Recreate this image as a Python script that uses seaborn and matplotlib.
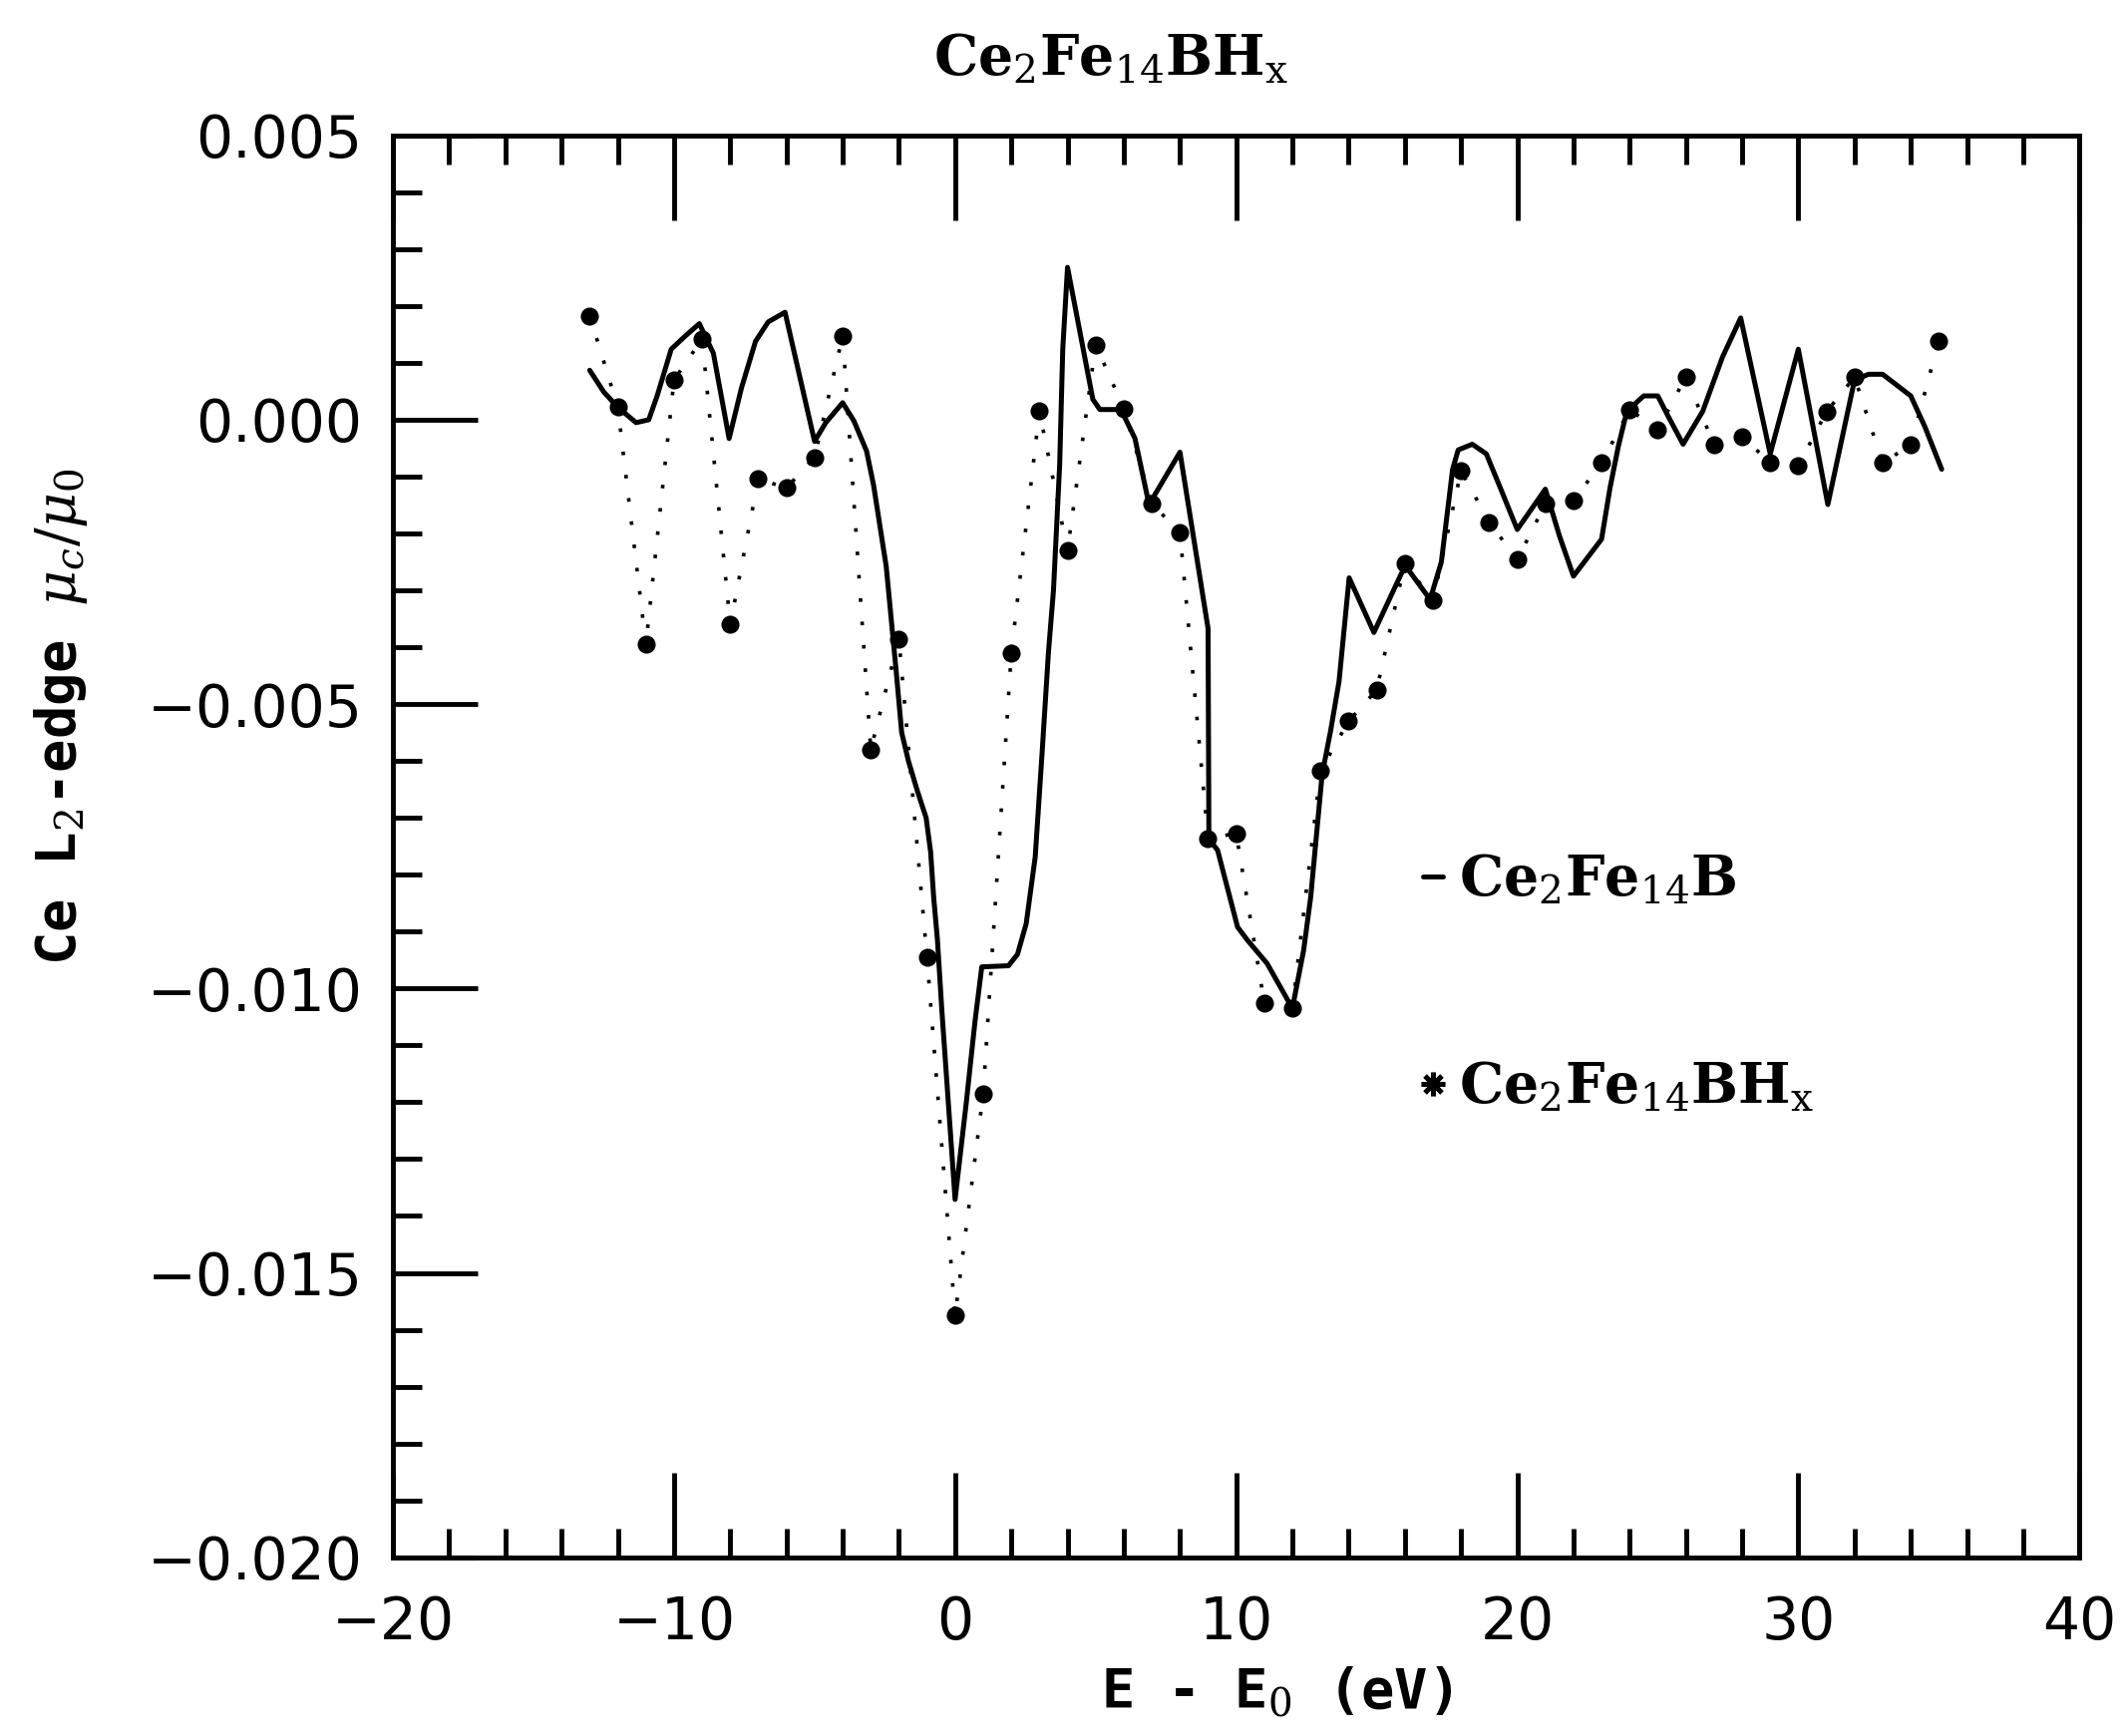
import matplotlib
matplotlib.use("Agg")
import matplotlib.pyplot as plt
from matplotlib.lines import Line2D
from matplotlib.ticker import MultipleLocator, FuncFormatter
import seaborn as sns

# Ce2Fe14BHx points, one per eV
energy_hx = list(range(-13, 36))
mu_hx = [0.00183, 0.00022, -0.00395, 0.00070, 0.00142, -0.00360, -0.00104,
         -0.00120, -0.00066, 0.00148, -0.00580, -0.00385, -0.00945, -0.01575,
         -0.01185, -0.00410, 0.00015, -0.00230, 0.00132, 0.00020, -0.00148,
         -0.00198, -0.00737, -0.00727, -0.01025, -0.01035, -0.00617, -0.00530,
         -0.00475, -0.00252, -0.00318, -0.00090, -0.00180, -0.00246, -0.00148,
         -0.00142, -0.00076, 0.00018, -0.00018, 0.00076, -0.00044, -0.00029,
         -0.00076, -0.00081, 0.00014, 0.00075, -0.00076, -0.00044, 0.00139]

# Ce2Fe14B curve, vertices
energy_b = [-13, -12.5, -12, -11.35, -10.9, -10.6, -10.1, -9.65, -9.1, -8.6,
            -8.04, -7.6, -7.1, -6.65, -6.05, -5.5, -5.0, -4.6, -4.0, -3.6,
            -3.15, -2.9, -2.45, -2.1, -1.9, -1.66, -1.34, -1.03, -0.87, -0.76,
            -0.63, -0.47, -0.28, 0.0, 0.4, 0.71, 0.95, 1.9, 2.22, 2.53, 2.85,
            3.09, 3.32, 3.5, 3.72, 3.83, 4.0, 4.9, 5.15, 5.9, 6.4, 6.9, 8.0,
            9.0, 9.03, 9.34, 10.05, 10.4, 11.1, 12.0, 12.4, 12.65, 13.06,
            13.36, 13.66, 14.02, 14.9, 15.9, 16.1, 16.9, 17.3, 17.7, 17.9,
            18.4, 18.9, 19.4, 20.0, 21.0, 21.5, 22.0, 23.0, 23.3, 23.6, 23.9,
            24.5, 25.0, 25.35, 25.9, 26.6, 27.3, 27.95, 29.0, 30.0, 31.05,
            32.0, 32.5, 33.0, 34.0, 34.5, 35.1]
mu_b = [0.00087, 0.00049, 0.00022, -0.00005, 0.00000, 0.00042, 0.00124,
        0.00145, 0.00169, 0.00117, -0.00033, 0.00056, 0.00138, 0.00172,
        0.00189, 0.00070, -0.00038, -0.00005, 0.00030, -0.00002, -0.00055,
        -0.00115, -0.00258, -0.00440, -0.00550, -0.00600, -0.00653, -0.00700,
        -0.00760, -0.00841, -0.00913, -0.01039, -0.01173, -0.01371, -0.01200,
        -0.01057, -0.00962, -0.00960, -0.00940, -0.00886, -0.00769, -0.00590,
        -0.00410, -0.00300, -0.00080, 0.00124, 0.00268, 0.00036, 0.00018,
        0.00018, -0.00033, -0.00149, -0.00057, -0.00367, -0.00737, -0.00757,
        -0.00892, -0.00915, -0.00956, -0.01035, -0.00933, -0.00840, -0.00623,
        -0.00547, -0.00460, -0.00278, -0.00374, -0.00268, -0.00262, -0.00316,
        -0.00250, -0.00087, -0.00053, -0.00043, -0.00060, -0.00120, -0.00193,
        -0.00122, -0.00204, -0.00275, -0.00210, -0.00120, -0.00046, 0.00015,
        0.00042, 0.00042, 0.00008, -0.00043, 0.00015, 0.00110, 0.00179,
        -0.00060, 0.00124, -0.00149, 0.00070, 0.00080, 0.00080, 0.00042,
        -0.00012, -0.00087]

sns.set_style("ticks")
plt.rcParams["font.family"] = ["DejaVu Sans"]
plt.rcParams["mathtext.fontset"] = "dejavuserif"
plt.rcParams["text.color"] = "black"
plt.rcParams["axes.labelcolor"] = "black"
plt.rcParams["xtick.color"] = "black"
plt.rcParams["ytick.color"] = "black"

fig = plt.figure(figsize=(21.3, 17.41), dpi=100)
ax = fig.add_axes([0.185, 0.103, 0.794, 0.819])

sns.lineplot(x=energy_b, y=mu_b, ax=ax, color="black", lw=3.6,
             sort=False, estimator=None)
sns.lineplot(x=energy_hx, y=mu_hx, ax=ax, color="black", lw=2.6,
             linestyle=(0, (1, 5.5)), estimator=None)
sns.scatterplot(x=energy_hx, y=mu_hx, ax=ax, color="black", s=170,
                marker="o", linewidth=0, zorder=3)

ax.set_xlim(-20, 40)
ax.set_ylim(-0.020, 0.005)
ax.xaxis.set_major_locator(MultipleLocator(10))
ax.xaxis.set_minor_locator(MultipleLocator(2))
ax.yaxis.set_major_locator(MultipleLocator(0.005))
ax.yaxis.set_minor_locator(MultipleLocator(0.001))


def fmt_y(v, pos):
    if abs(v) < 1e-12:
        return "0.000"
    return f"{v:.3f}".replace("-", "\u2212")


def fmt_x(v, pos):
    return f"{v:.0f}".replace("-", "\u2212")


ax.yaxis.set_major_formatter(FuncFormatter(fmt_y))
ax.xaxis.set_major_formatter(FuncFormatter(fmt_x))

ax.tick_params(which="both", direction="in", top=True, right=False,
               width=3.5, color="black", labelcolor="black", labelsize=42)
ax.tick_params(which="major", length=61)
ax.tick_params(which="minor", length=21)
ax.tick_params(axis="x", pad=27)
ax.tick_params(axis="y", pad=22)
for sp in ax.spines.values():
    sp.set_linewidth(3.5)
    sp.set_color("black")

ax.set_xlabel("E - E$_0$ (eV)", fontsize=40, family="DejaVu Sans Mono",
              weight="bold", color="black")
ax.xaxis.set_label_coords(0.524, -0.076)
ax.set_ylabel(r"Ce L$_2$-edge $\mu_c/\mu_0$", fontsize=40,
              family="DejaVu Sans Mono", weight="bold", color="black")
ax.yaxis.set_label_coords(-0.18, 0.591)

fig.text(0.523, 0.9655, r"Ce$_2$Fe$_{14}$BH$_\mathrm{x}$", ha="center",
         va="center", fontsize=40, family="DejaVu Serif", weight="bold",
         color="black")

handles = [Line2D([], [], color="black", lw=3.5),
           Line2D([], [], color="black", marker=(8, 2, 0), markersize=17,
                  mew=3.5, linestyle="none")]
labels = [r"Ce$_2$Fe$_{14}$B", r"Ce$_2$Fe$_{14}$BH$_\mathrm{x}$"]
ax.legend(handles, labels, loc="center left", bbox_to_anchor=(0.611, 0.403),
          frameon=False, handlelength=0.35, handletextpad=0.3,
          labelspacing=2.75, borderpad=0, borderaxespad=0,
          labelcolor="black",
          prop={"family": "DejaVu Serif", "weight": "bold", "size": 40})

fig.savefig("out.png", dpi=100)
